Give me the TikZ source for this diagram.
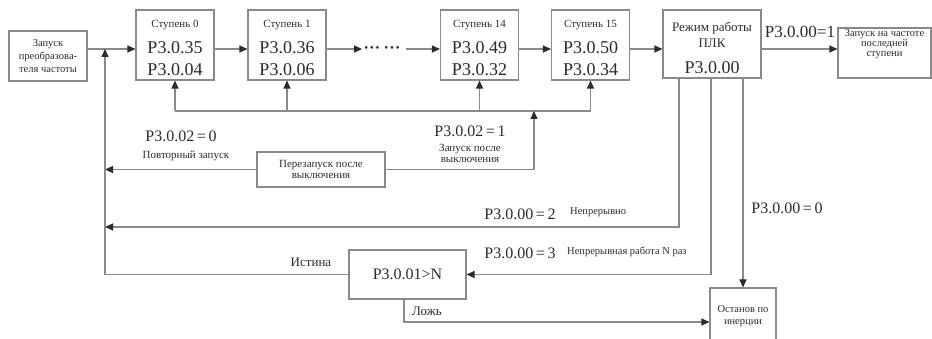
\documentclass[tikz,border=0pt]{standalone}
\usepackage{fontspec}
\setmainfont{Liberation Serif}
\usetikzlibrary{positioning,calc,arrows.meta}
\definecolor{linegray}{HTML}{8A8A8A}
\definecolor{textmain}{HTML}{2B2B2B}
\newcommand{\stagettl}[1]{{\fontsize{11}{22}\selectfont\rule{0pt}{14pt}#1}}

\begin{document}
\begin{tikzpicture}[x=1pt,y=-1pt,
    stagebox/.style={draw=linegray, line width=1.1pt, minimum width=78pt,
                 minimum height=70pt, inner sep=0pt, align=center,
                 text=textmain, font=\fontsize{18}{22}\selectfont},
    smallbox/.style={draw=linegray, line width=1.1pt, inner sep=0pt,
                 align=center, text=textmain, font=\fontsize{10.5}{12}\selectfont},
    arr/.style={draw=linegray, line width=1.1pt,
                -{Triangle[length=8pt,width=7pt,color=textmain]}},
    wire/.style={draw=linegray, line width=1.1pt},
    bigtxt/.style={inner sep=0pt, text=textmain, font=\fontsize{16}{16}\selectfont},
    smalltxt/.style={inner sep=0pt, align=center, text=textmain,
                 font=\fontsize{10.5}{11}\selectfont},
    midtxt/.style={inner sep=0pt, text=textmain, font=\fontsize{13}{13}\selectfont},
  ]
  \useasboundingbox (0,0) rectangle (932,339);

  % upper row
  \node[smallbox, minimum width=78pt, minimum height=50pt,
        font=\fontsize{10.5}{13}\selectfont] (start) at (48,56)
        {Запуск\\преобразова-\\теля частоты};
  \node[stagebox] (s0) at (175,45) {\stagettl{Ступень 0}\\[4pt]P3.0.35\\P3.0.04};
  \node[stagebox] (s1) at (287,45) {\stagettl{Ступень 1}\\[4pt]P3.0.36\\P3.0.06};
  \node[inner sep=0pt, text=textmain, font=\fontsize{11}{11}\selectfont] (dots) at (382,49)
        {•\,•\,•\hspace{5pt}•\,•\,•};
  \node[stagebox] (s14) at (479.5,45) {\stagettl{Ступень 14}\\[4pt]P3.0.49\\P3.0.32};
  \node[stagebox] (s15) at (590.5,45) {\stagettl{Ступень 15}\\[4pt]P3.0.50\\P3.0.34};
  \node[stagebox, minimum width=98pt, minimum height=68pt,
        font=\fontsize{13}{16}\selectfont] (plc) at (712,44)
        {\rule{0pt}{18pt}Режим работы\\ПЛК\\[10pt]{\fontsize{18}{16}\selectfont P3.0.00}};
  \node[smallbox, minimum width=93pt, minimum height=50pt] (last) at (884.5,53) {};
  \node[smalltxt, anchor=north, font=\fontsize{10.5}{10}\selectfont] (lasttxt)
        at ([yshift=-2pt]last.north) {Запуск на частоте\\последней\\ступени};

  % lower part
  \node[smallbox, minimum width=128pt, minimum height=35pt,
        font=\fontsize{11}{11.5}\selectfont] (restart) at (321,169.5)
        {Перезапуск после\\выключения};
  \node[smallbox, minimum width=117pt, minimum height=49pt,
        font=\fontsize{16}{16}\selectfont] (cmp) at (407.5,274.5) {P3.0.01>N};
  \node[smallbox, minimum width=66pt, minimum height=68pt,
        font=\fontsize{10.5}{12}\selectfont] (stop) at (743,322)
        {Останов по\\инерции\\[2pt]\mbox{}};

  \coordinate (junc) at (105,49);
  \coordinate (loop) at (534,111);
  \coordinate (b2) at (679,227);

  % labels
  \node[bigtxt] (lq0) at (181,136) {P3.0.02\,=\,0};
  \node[smalltxt, font=\fontsize{11}{11}\selectfont] (lrep) at (186,156) {Повторный запуск};
  \node[bigtxt] (lq1) at (470,131) {P3.0.02\,=\,1};
  \node[smalltxt, font=\fontsize{11}{11}\selectfont] (lrun) at (470,153) {Запуск после\\выключения};
  \node[bigtxt, font=\fontsize{17}{17}\selectfont] (lm1) at (800,32) {P3.0.00=1};
  \node[bigtxt] (lm2) at (520,214) {P3.0.00\,=\,2};
  \node[smalltxt, anchor=west] (lcont) at (570,212) {Непрерывно};
  \node[bigtxt] (lm3) at (520,253) {P3.0.00\,=\,3};
  \node[smalltxt, anchor=west] (lnrun) at (567,252) {Непрерывная работа N раз};
  \node[bigtxt] (lm0) at (787,208) {P3.0.00\,=\,0};
  \node[midtxt] (ltrue) at (311,262) {Истина};
  \node[midtxt] (lfalse) at (427,311) {Ложь};

  % connectors, upper row
  \draw[arr] (start.east |- junc) -- (s0.west |- junc);
  \draw[arr] (s0.east |- junc) -- (s1.west |- junc);
  \draw[arr] (s1.east |- junc) -- ([xshift=-2pt]dots.west);
  \draw[arr] ([xshift=6pt]dots.east) -- (s14.west |- junc);
  \draw[arr] (s14.east |- junc) -- (s15.west |- junc);
  \draw[arr] (s15.east |- junc) -- (plc.west |- junc);
  \draw[arr] (plc.east |- junc) -- (last.west |- junc);

  % restart loop
  \draw[wire] (loop -| s0.south) -- (loop -| s15.south);
  \foreach \s in {s0,s1,s14,s15}
    \draw[arr] (loop -| \s.south) -- (\s.south);
  \draw[arr] (restart.east) -| (loop);
  \draw[arr] (restart.west) -- (restart.west -| junc);

  % mode branches
  \draw[arr] ([xshift=-33pt]plc.south) |- (b2) -- (b2 -| junc);
  \draw[arr] ([xshift=-1pt]plc.south) |- (cmp.east);
  \draw[arr] ([xshift=31pt]plc.south) -- (stop.north);
  \draw[arr] (cmp.west) -| (junc);
  \draw[arr] ([xshift=-3.5pt]cmp.south) |- (stop.west);
\end{tikzpicture}
\end{document}
